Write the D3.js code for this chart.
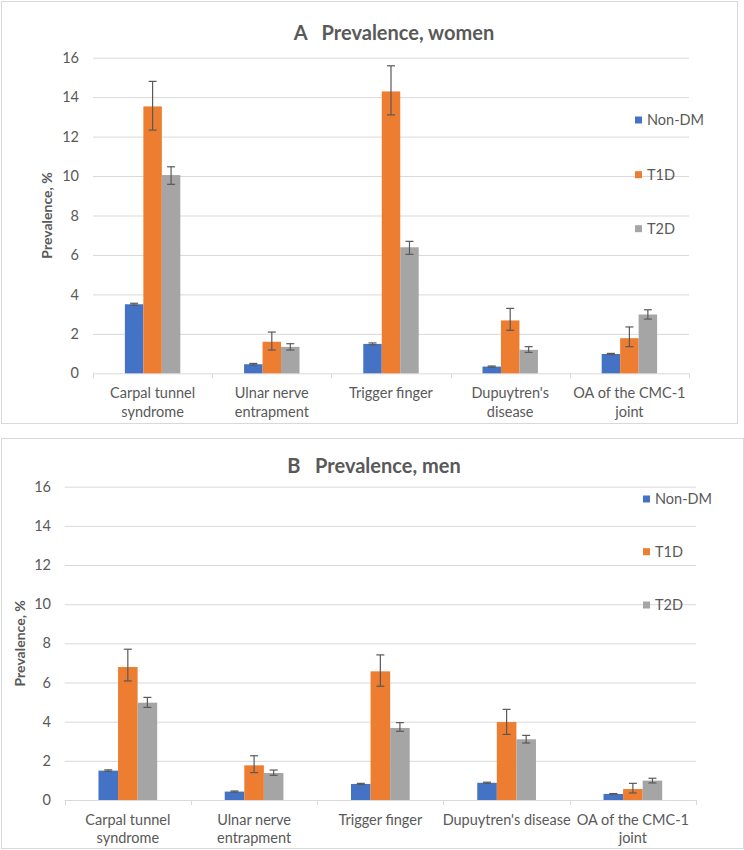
<!DOCTYPE html>
<html>
<head>
<meta charset="utf-8">
<script src="https://cdn.jsdelivr.net/npm/d3@7"></script>
<style>
  body { margin: 0; background: #fff; }
  svg text { font-family: Lato, "Open Sans", sans-serif; fill: #595959; }
</style>
</head>
<body>
<div id="chart"></div>
<script>
// categories and series
var categories = ["Carpal tunnel syndrome", "Ulnar nerve entrapment", "Trigger finger", "Dupuytren's disease", "OA of the CMC-1 joint"];
var series = ["Non-DM", "T1D", "T2D"];
var yTicks = [0, 2, 4, 6, 8, 10, 12, 14, 16];

// wrapped axis labels, as printed in each panel
var labelsWomen = [["Carpal tunnel", "syndrome"], ["Ulnar nerve", "entrapment"], ["Trigger finger"], ["Dupuytren's", "disease"], ["OA of the CMC-1", "joint"]];
var labelsMen = [["Carpal tunnel", "syndrome"], ["Ulnar nerve", "entrapment"], ["Trigger finger"], ["Dupuytren's disease"], ["OA of the CMC-1", "joint"]];

// A: women, prevalence % with confidence limits
var womenNonDM = [3.50, 0.46, 1.49, 0.34, 0.98];
var womenNonDMLo = [3.45, 0.42, 1.44, 0.31, 0.95];
var womenNonDMHi = [3.55, 0.50, 1.54, 0.37, 1.01];
var womenT1D = [13.53, 1.60, 14.29, 2.68, 1.78];
var womenT1DLo = [12.33, 1.18, 13.10, 2.18, 1.35];
var womenT1DHi = [14.80, 2.09, 15.59, 3.29, 2.35];
var womenT2D = [10.05, 1.34, 6.39, 1.19, 2.98];
var womenT2DLo = [9.58, 1.18, 6.03, 1.06, 2.75];
var womenT2DHi = [10.47, 1.50, 6.69, 1.35, 3.22];

// B: men
var menNonDM = [1.50, 0.43, 0.82, 0.88, 0.31];
var menNonDMLo = [1.46, 0.40, 0.79, 0.85, 0.29];
var menNonDMHi = [1.54, 0.46, 0.85, 0.91, 0.33];
var menT1D = [6.79, 1.77, 6.57, 3.98, 0.56];
var menT1DLo = [6.08, 1.40, 5.81, 3.35, 0.36];
var menT1DHi = [7.70, 2.26, 7.41, 4.63, 0.85];
var menT2D = [4.97, 1.38, 3.68, 3.10, 0.99];
var menT2DLo = [4.73, 1.26, 3.51, 2.91, 0.87];
var menT2DHi = [5.24, 1.53, 3.95, 3.30, 1.11];

var colors = ["#4472C4", "#ED7D31", "#A5A5A5"];

var svg = d3.select("#chart").append("svg")
  .attr("width", 744)
  .attr("height", 850);

function buildRows(vals, los, his) {
  var rows = [];
  categories.forEach(function(c, i) {
    series.forEach(function(s, j) {
      rows.push({ cat: c, series: s, value: vals[j][i], lo: los[j][i], hi: his[j][i] });
    });
  });
  return rows;
}

function drawPanel(cfg) {
  var g = svg.append("g");

  // frame
  g.append("rect")
    .attr("x", cfg.box[0] + 0.5).attr("y", cfg.box[1] + 0.5)
    .attr("width", cfg.box[2]).attr("height", cfg.box[3])
    .attr("fill", "#fff").attr("stroke", "#d9d9d9");

  var x = d3.scaleBand().domain(categories).range([cfg.left, cfg.right]);
  var y = d3.scaleLinear().domain([0, 16]).range([cfg.bottom, cfg.top]);
  var barW = x.bandwidth() * 0.155;
  var xs = d3.scaleBand().domain(series).range([-1.5 * barW, 1.5 * barW]);

  // gridlines + tick labels
  var yAxis = g.append("g")
    .attr("transform", "translate(" + cfg.left + ",0)")
    .call(d3.axisLeft(y).tickValues(yTicks).tickSize(-(cfg.right - cfg.left)).tickPadding(cfg.left - cfg.tickRight));
  yAxis.select(".domain").remove();
  yAxis.selectAll(".tick line").attr("stroke", "#d9d9d9").attr("stroke-width", 1)
    .filter(function(d) { return d === 0; }).remove();
  yAxis.selectAll(".tick text")
    .style("font-family", "Lato, 'Open Sans', sans-serif")
    .style("font-size", "14.5px").attr("fill", "#595959");

  // category axis
  var xAxis = g.append("g");
  xAxis.append("line")
    .attr("x1", cfg.left).attr("x2", cfg.right)
    .attr("y1", y(0) + 0.5).attr("y2", y(0) + 0.5)
    .attr("stroke", "#d9d9d9");
  var edges = categories.map(function(c) { return x(c); }).concat([cfg.right]);
  xAxis.selectAll("line.tk").data(edges).enter().append("line")
    .attr("class", "tk")
    .attr("x1", function(d) { return Math.round(d) + 0.5; })
    .attr("x2", function(d) { return Math.round(d) + 0.5; })
    .attr("y1", y(0)).attr("y2", y(0) + 5)
    .attr("stroke", "#d9d9d9");
  var lab = xAxis.selectAll("text.cat").data(categories).enter().append("text")
    .attr("class", "cat")
    .attr("text-anchor", "middle")
    .style("font-size", "14.5px");
  lab.each(function(c, i) {
    var t = d3.select(this);
    cfg.labels[i].forEach(function(line, k) {
      t.append("tspan")
        .attr("x", x(c) + x.bandwidth() / 2)
        .attr("y", y(0) + 25 + k * 18.4)
        .text(line);
    });
  });

  // bars
  var rows = buildRows(cfg.vals, cfg.los, cfg.his);
  var bx = function(d) { return x(d.cat) + x.bandwidth() / 2 + xs(d.series); };
  g.selectAll("rect.bar").data(rows).enter().append("rect")
    .attr("class", "bar")
    .attr("x", bx)
    .attr("y", function(d) { return y(d.value); })
    .attr("width", xs.bandwidth())
    .attr("height", function(d) { return y(0) - y(d.value); })
    .attr("fill", function(d) { return colors[series.indexOf(d.series)]; });

  // error bars
  var eb = g.selectAll("g.err").data(rows).enter().append("g").attr("class", "err")
    .attr("stroke", "#595959").attr("stroke-width", 1.2);
  eb.append("line")
    .attr("x1", function(d) { return bx(d) + xs.bandwidth() / 2; })
    .attr("x2", function(d) { return bx(d) + xs.bandwidth() / 2; })
    .attr("y1", function(d) { return y(d.lo); })
    .attr("y2", function(d) { return y(d.hi); });
  [function(d) { return d.lo; }, function(d) { return d.hi; }].forEach(function(acc) {
    eb.append("line")
      .attr("x1", function(d) { return bx(d) + xs.bandwidth() / 2 - 4; })
      .attr("x2", function(d) { return bx(d) + xs.bandwidth() / 2 + 4; })
      .attr("y1", function(d) { return y(acc(d)); })
      .attr("y2", function(d) { return y(acc(d)); });
  });

  // title
  g.append("text")
    .attr("x", cfg.titleX).attr("y", cfg.titleY)
    .attr("text-anchor", "middle")
    .style("font-size", "20px").style("font-weight", "bold")
    .style("white-space", "pre")
    .text(cfg.title);

  // y axis title
  g.append("text")
    .attr("transform", "translate(" + cfg.yTitleX + "," + ((cfg.top + cfg.bottom) / 2) + ") rotate(-90)")
    .attr("text-anchor", "middle")
    .attr("dy", "0.35em")
    .style("font-size", "14px").style("font-weight", "bold")
    .text("Prevalence, %");

  // legend
  var leg = g.selectAll("g.leg").data(series).enter().append("g").attr("class", "leg")
    .attr("transform", function(d, i) { return "translate(" + cfg.legX + "," + cfg.legY[i] + ")"; });
  leg.append("rect")
    .attr("x", 0).attr("y", -3.5).attr("width", 7).attr("height", 7)
    .attr("fill", function(d, i) { return colors[i]; });
  leg.append("text")
    .attr("x", 12).attr("dy", "0.35em")
    .style("font-size", "14.5px")
    .text(function(d) { return d; });
}

drawPanel({
  box: [1, 1, 736, 422],
  left: 93, right: 689, top: 57.7, bottom: 373.3, tickRight: 79,
  title: "A   Prevalence, women", titleX: 394, titleY: 39.5,
  yTitleX: 47,
  legX: 635, legY: [120, 174.7, 228.7],
  labels: labelsWomen,
  vals: [womenNonDM, womenT1D, womenT2D],
  los: [womenNonDMLo, womenT1DLo, womenT2DLo],
  his: [womenNonDMHi, womenT1DHi, womenT2DHi]
});

drawPanel({
  box: [1, 438, 742, 410],
  left: 64.7, right: 696, top: 486.7, bottom: 800, tickRight: 51,
  title: "B   Prevalence, men", titleX: 374, titleY: 472.5,
  yTitleX: 20,
  legX: 643, legY: [499, 551.7, 605],
  labels: labelsMen,
  vals: [menNonDM, menT1D, menT2D],
  los: [menNonDMLo, menT1DLo, menT2DLo],
  his: [menNonDMHi, menT1DHi, menT2DHi]
});
</script>
</body>
</html>
